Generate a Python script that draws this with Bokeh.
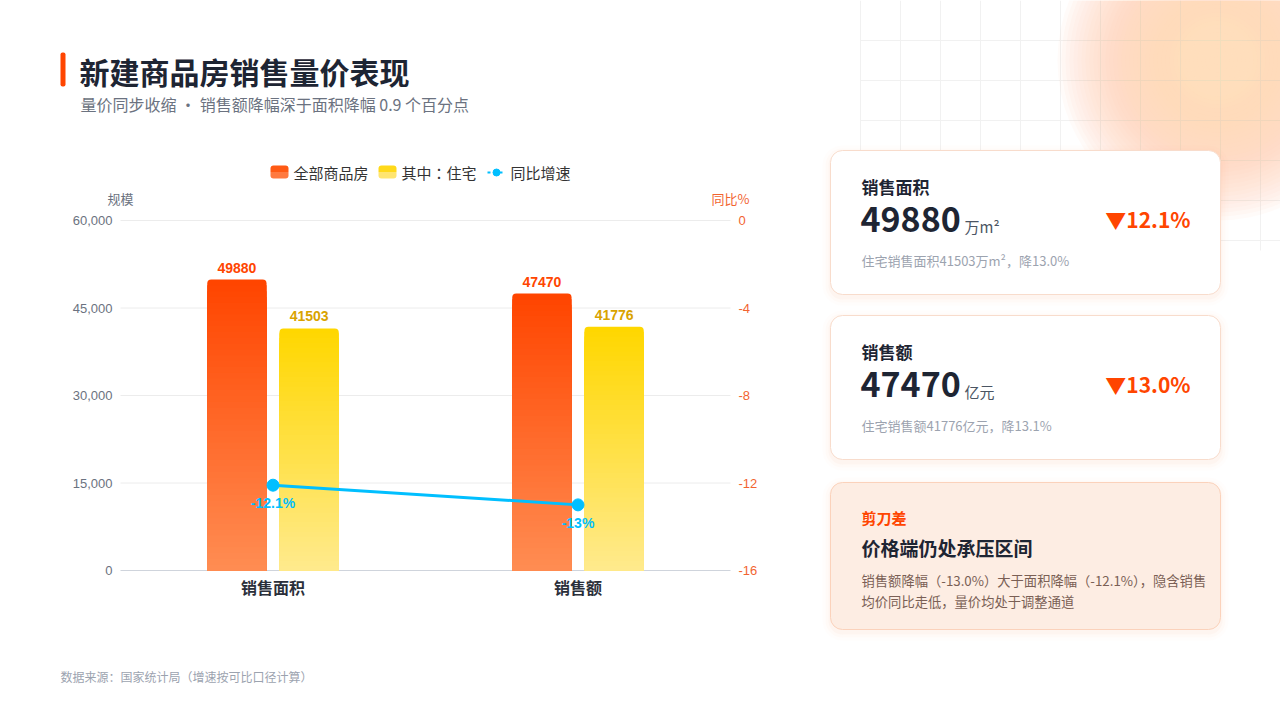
from bokeh.plotting import figure
from bokeh.models import Range1d
from bokeh.core.properties import value
from bokeh.embed import file_html
from bokeh.resources import INLINE

# ---------------- data ----------------
categories = ["销售面积", "销售额"]
all_housing = [49880, 47470]          # 全部商品房
residential = [41503, 41776]          # 其中：住宅
yoy = [-12.1, -13.0]                  # 同比增速 %
yoy_labels = ["-12.1%", "-13%"]
series_names = ["全部商品房", "其中：住宅", "同比增速"]
left_ticks = [0, 15000, 30000, 45000, 60000]
left_tick_labels = ["0", "15,000", "30,000", "45,000", "60,000"]
right_ticks = [0, -4, -8, -12, -16]
right_tick_labels = ["0", "-4", "-8", "-12", "-16"]

title = "新建商品房销售量价表现"
subtitle = "量价同步收缩 · 销售额降幅深于面积降幅 0.9 个百分点"
source_note = "数据来源：国家统计局（增速按可比口径计算）"

card_titles = ["销售面积", "销售额"]
card_values = ["49880", "47470"]
card_units = ["万m²", "亿元"]
card_changes = ["▼12.1%", "▼13.0%"]
card_notes = ["住宅销售面积41503万m²，降13.0%", "住宅销售额41776亿元，降13.1%"]
insight_tag = "剪刀差"
insight_title = "价格端仍处承压区间"
insight_lines = ["销售额降幅（-13.0%）大于面积降幅（-12.1%），隐含销售",
                 "均价同比走低，量价均处于调整通道"]

# ---------------- layout constants (screen px) ----------------
OFF = 0
W, H = 1280, 720
PLOT_L, PLOT_R = 120, 730
Y_ZERO, Y_TOP = 570, 220
VOL_MAX = 60000
PCT_MIN = -16

CJK = value("Noto Sans CJK SC")
CJK_TC = value("Noto Sans CJK TC")
LAT = value("Liberation Sans")

ORANGE = "#FF4500"
DARK = "#1e2533"
GRAY = "#6b7280"
LGRAY = "#9ca3af"
CYAN = "#00BFFF"
AX_ORANGE = "#F26430"

p = figure(width=W, height=H, x_range=Range1d(OFF, OFF + W), y_range=Range1d(OFF + H, OFF),
           output_backend="svg", toolbar_location=None, x_axis_type=None, y_axis_type=None,
           min_border=0, min_border_left=0, min_border_right=0, min_border_top=0, min_border_bottom=0)
p.outline_line_color = None
p.background_fill_color = "white"
p.border_fill_color = "white"

# extra ranges for the chart, mapped so that data lands in the plot area
vol_scale = (Y_ZERO - Y_TOP) / VOL_MAX
pct_scale = (Y_ZERO - Y_TOP) / (0 - PCT_MIN)
band = (PLOT_R - PLOT_L) / len(categories)
c0 = PLOT_L + band / 2
p.extra_y_ranges = {
    "vol": Range1d(start=-(OFF + H - Y_ZERO) / vol_scale, end=(Y_ZERO - OFF) / vol_scale),
    "pct": Range1d(start=PCT_MIN - (OFF + H - Y_ZERO) / pct_scale, end=(Y_TOP - OFF) / pct_scale),
}
p.extra_x_ranges = {"cat": Range1d(start=-(c0 - OFF) / band, end=(OFF + W - c0) / band)}

# ---------------- background decoration ----------------
gx = list(range(860, OFF + W + 1, 40))
p.segment(x0=gx, y0=[OFF] * len(gx), x1=gx, y1=[250] * len(gx), line_color="#f1f1f1", line_width=1)
gy = list(range(40, 250, 40))
p.segment(x0=[860] * len(gy), y0=gy, x1=[OFF + W] * len(gy), y1=gy, line_color="#f1f1f1", line_width=1)


def mix(c1, c2, t):
    return "#%02x%02x%02x" % tuple(int(round(a + (b - a) * t)) for a, b in zip(c1, c2))


n_glow = 40
for k in range(n_glow):
    t = k / (n_glow - 1)
    r = 160 - k * 4
    p.circle(x=[1217], y=[60], radius=r, fill_color=mix((255, 192, 160), (255, 246, 205), t),
             fill_alpha=0.06, line_color=None)

# ---------------- title ----------------
p.quad(left=[60], right=[65], top=[52], bottom=[86], fill_color=ORANGE, line_color=None, border_radius=2)
p.text(x=[79], y=[70], text=[title], text_font=CJK, text_font_size="30px", text_font_style="bold",
       text_color=DARK, text_baseline="middle")
p.text(x=[80], y=[103], text=[subtitle], text_font=CJK, text_font_size="16px",
       text_color=GRAY, text_baseline="middle")

# ---------------- legend ----------------
p.quad(left=[270], right=[288], top=[165], bottom=[171.5], fill_color="#FF5A14", line_color=None,
       border_radius=(3, 3, 0, 0))
p.quad(left=[270], right=[288], top=[171.5], bottom=[178], fill_color="#FF7A40", line_color=None,
       border_radius=(0, 0, 3, 3))
p.text(x=[293], y=[172], text=[series_names[0]], text_font=CJK, text_font_size="15px",
       text_color="#333333", text_baseline="middle")
p.quad(left=[378], right=[396], top=[165], bottom=[171.5], fill_color="#FFD91A", line_color=None,
       border_radius=(3, 3, 0, 0))
p.quad(left=[378], right=[396], top=[171.5], bottom=[178], fill_color="#FFE570", line_color=None,
       border_radius=(0, 0, 3, 3))
p.text(x=[401], y=[172], text=[series_names[1]], text_font=CJK_TC, text_font_size="15px",
       text_color="#333333", text_baseline="middle")
p.segment(x0=[487], y0=[172], x1=[505], y1=[172], line_color=CYAN, line_width=2, line_dash="3 3")
p.scatter(x=[496], y=[172], size=7, fill_color=CYAN, line_color=CYAN)
p.text(x=[510], y=[172], text=[series_names[2]], text_font=CJK, text_font_size="15px",
       text_color="#333333", text_baseline="middle")

# ---------------- chart: grid and axes ----------------
p.segment(x0=[PLOT_L] * len(left_ticks[1:]), x1=[PLOT_R] * len(left_ticks[1:]), y0=left_ticks[1:],
          y1=left_ticks[1:], y_range_name="vol", line_color="#ececec", line_width=1)
p.segment(x0=[PLOT_L], x1=[PLOT_R], y0=[0], y1=[0], y_range_name="vol", line_color="#cfd4dc", line_width=1)
p.text(x=[112] * len(left_ticks), y=left_ticks, text=left_tick_labels, y_range_name="vol",
       text_font=LAT, text_font_size="13px", text_color=GRAY, text_align="right", text_baseline="middle")
p.text(x=[738] * len(right_ticks), y=right_ticks, text=right_tick_labels, y_range_name="pct",
       text_font=LAT, text_font_size="13px", text_color=AX_ORANGE, text_align="left", text_baseline="middle")
p.text(x=[120], y=[198], text=["规模"], text_font=CJK, text_font_size="13px", text_color=GRAY,
       text_align="center", text_baseline="middle")
p.text(x=[730], y=[198], text=["同比%"], text_font=CJK, text_font_size="13px", text_color=AX_ORANGE,
       text_align="center", text_baseline="middle")
p.text(x=list(range(len(categories))), y=[0] * len(categories), text=categories, x_range_name="cat",
       y_range_name="vol", y_offset=16, text_font=CJK, text_font_size="16px", text_font_style="bold",
       text_color="#2b2f3a", text_align="center", text_baseline="middle")

# ---------------- chart: gradient bars ----------------
bar_w = 59.3 / band
bar_off = 36.1 / band
N = 50


def gradient_bars(vals, offset, c_top, c_bot):
    xs = [i + offset for i in range(len(vals))]
    for k in range(N):
        t = k / (N - 1)
        tops = [v * (1 - k / N) for v in vals]
        p.quad(left=[x - bar_w / 2 for x in xs], right=[x + bar_w / 2 for x in xs], top=tops,
               bottom=[0] * len(vals), x_range_name="cat", y_range_name="vol",
               fill_color=mix(c_top, c_bot, t), line_color=None,
               border_radius=(4, 4, 0, 0) if k == 0 else 0)


gradient_bars(all_housing, -bar_off, (255, 69, 0), (255, 140, 82))
gradient_bars(residential, bar_off, (255, 215, 0), (255, 234, 140))

p.text(x=[i - bar_off for i in range(len(categories))], y=all_housing, text=[str(v) for v in all_housing],
       x_range_name="cat", y_range_name="vol", y_offset=-7, text_font=LAT, text_font_size="14px",
       text_font_style="bold", text_color=ORANGE, text_align="center", text_baseline="bottom")
p.text(x=[i + bar_off for i in range(len(categories))], y=residential, text=[str(v) for v in residential],
       x_range_name="cat", y_range_name="vol", y_offset=-7, text_font=LAT, text_font_size="14px",
       text_font_style="bold", text_color="#D9A300", text_align="center", text_baseline="bottom")

# ---------------- chart: yoy line ----------------
xi = list(range(len(categories)))
p.line(x=xi, y=yoy, x_range_name="cat", y_range_name="pct", line_color=CYAN, line_width=3)
p.scatter(x=xi, y=yoy, x_range_name="cat", y_range_name="pct", size=12, fill_color=CYAN, line_color=CYAN)
p.text(x=xi, y=yoy, text=yoy_labels, x_range_name="cat", y_range_name="pct", y_offset=10,
       text_font=LAT, text_font_size="14px", text_font_style="bold", text_color=CYAN,
       text_align="center", text_baseline="top")

# ---------------- cards ----------------
def card(top, bottom, fill, border, shadow):
    for d, a in ((8, 0.025), (5, 0.035), (2, 0.05)):
        p.quad(left=[830 - d], right=[1220 + d], top=[top - d + 3], bottom=[bottom + d + 3],
               fill_color=shadow, fill_alpha=a, line_color=None, border_radius=12 + d)
    p.quad(left=[830], right=[1220], top=[top], bottom=[bottom], fill_color=fill,
           line_color=border, line_width=1, border_radius=12)


card_tops = [150, 315]
card_bottoms = [294, 459]
for i in range(2):
    t = card_tops[i]
    card(t, card_bottoms[i], "white", "#f8dccc", "#f4a57a")
    p.text(x=[861], y=[t + 36], text=[card_titles[i]], text_font=CJK, text_font_size="17px",
           text_font_style="bold", text_color=DARK, text_baseline="middle")
    p.text(x=[860], y=[t + 69], text=[card_values[i]], text_font=CJK, text_font_size="34px",
           text_font_style="bold", text_color=DARK, text_baseline="middle")
    p.text(x=[964], y=[t + 76], text=[card_units[i]], text_font=CJK, text_font_size="15px",
           text_color="#4b5563", text_baseline="middle")
    p.text(x=[1190], y=[t + 68], text=[card_changes[i]], text_font=CJK, text_font_size="21px",
           text_font_style="bold", text_color=ORANGE, text_align="right", text_baseline="middle")
    p.text(x=[861], y=[t + 110], text=[card_notes[i]], text_font=CJK, text_font_size="13px",
           text_color=LGRAY, text_baseline="middle")

card(482, 629, "#fdede3", "#fbd2bb", "#f4a57a")
p.text(x=[861], y=[517], text=[insight_tag], text_font=CJK, text_font_size="15px", text_font_style="bold",
       text_color=ORANGE, text_baseline="middle")
p.text(x=[861], y=[547], text=[insight_title], text_font=CJK, text_font_size="19px", text_font_style="bold",
       text_color=DARK, text_baseline="middle")
p.text(x=[861, 861], y=[580, 601], text=insight_lines, text_font=CJK, text_font_size="13.3px",
       text_color="#7a5f55", text_baseline="middle")

# ---------------- footer ----------------
p.text(x=[60], y=[676], text=[source_note], text_font=CJK, text_font_size="12px", text_color=LGRAY,
       text_baseline="middle")

open("out.html", "w").write(file_html(p, INLINE))
